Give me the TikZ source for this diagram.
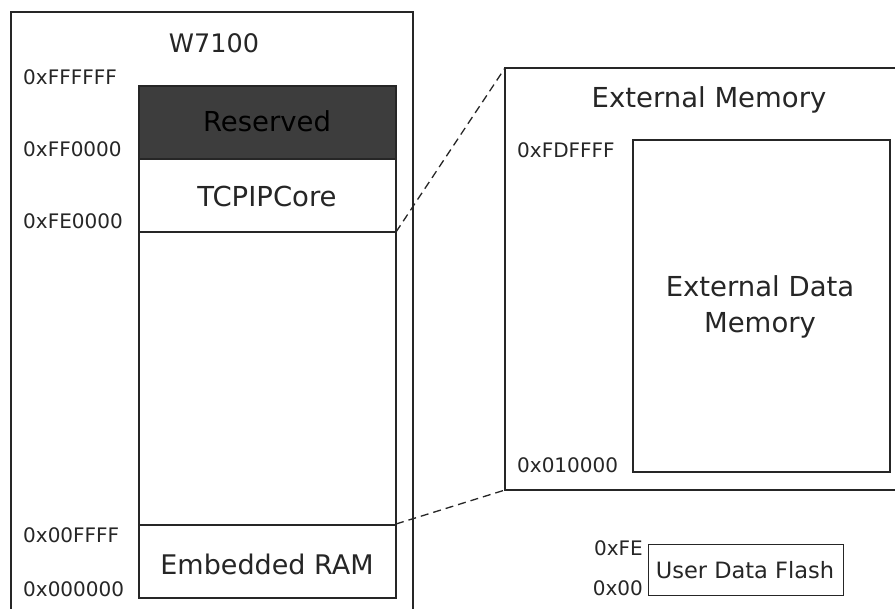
\documentclass[tikz,border=0pt]{standalone}
\usepackage{fontspec}
\setmainfont{DejaVu Sans}
\begin{document}
\begin{tikzpicture}[x=1pt,y=-1pt,
  txt/.style={inner sep=0pt,text=black!85},
  addr/.style={txt,font=\fontsize{20}{24}\selectfont},
  big/.style={txt,font=\fontsize{27.5}{36}\selectfont},
  box/.style={draw=black!85,line width=1.1pt},
  zoomline/.style={draw=black!85,line width=1.3pt,dash pattern=on 8pt off 5pt}]
\useasboundingbox (0,0) rectangle (895,609);
\fill[white] (0,0) rectangle (895,609);
% outer W7100 frame (bottom cut off)
\draw[box] (11,609) -- (11,12) -- (413,12) -- (413,609);
% inner column
\draw[box,fill=black!76] (139,86) rectangle (396,159);
\draw[box] (139,159) rectangle (396,232);
\draw[box] (139,232) rectangle (396,525);
\draw[box] (139,525) rectangle (396,598);
\coordinate (tcpbot) at (396,232);
\coordinate (ramtop) at (396,524);
% external memory frame (right edge cut off)
\draw[box] (897,68) -- (505,68) -- (505,490) -- (897,490);
\coordinate (extTL) at (505,68);
\coordinate (extBL) at (505,490);
\draw[box] (633,140) rectangle (890,472);
% user data flash
\node[box,minimum width=195pt,minimum height=51pt,inner sep=0pt,anchor=north west] (udf) at (648,544) {};
% labels
\node[big,anchor=base,font=\fontsize{25.5}{30}\selectfont] (w7100) at (214,53) {W7100};
\node[big,anchor=base,text=black] (res) at (267,132) {Reserved};
\node[big,anchor=base] (tcp) at (267,207) {TCPIPCore};
\node[big,anchor=base,font=\fontsize{27}{32}\selectfont] (eram) at (267,575) {Embedded RAM};
\node[addr,anchor=base west] (a1) at (23,85) {0xFFFFFF};
\node[addr,anchor=base west] (a2) at (23,157) {0xFF0000};
\node[addr,anchor=base west] (a3) at (23,229) {0xFE0000};
\node[addr,anchor=base west] (a4) at (23,543) {0x00FFFF};
\node[addr,anchor=base west] (a5) at (23,596) {0x000000};
\node[big,anchor=base] (extm) at (709,108) {External Memory};
\node[addr,anchor=base west] (a6) at (517,158) {0xFDFFFF};
\node[addr,anchor=base west] (a7) at (517,473) {0x010000};
\node[big,anchor=base] (edm1) at (760,297) {External Data};
\node[big,anchor=base] (edm2) at (760,333) {Memory};
\node[addr,anchor=base east] (a8) at (643,555) {0xFE};
\node[addr,anchor=base east] (a9) at (643,595) {0x00};
\node[txt,font=\fontsize{22.5}{26}\selectfont,anchor=base] at (745,578) (udft) {User Data Flash};
% zoom connectors
\draw[zoomline] (tcpbot) -- (extTL);
\draw[zoomline] (ramtop) -- (extBL);
\end{tikzpicture}
\end{document}
